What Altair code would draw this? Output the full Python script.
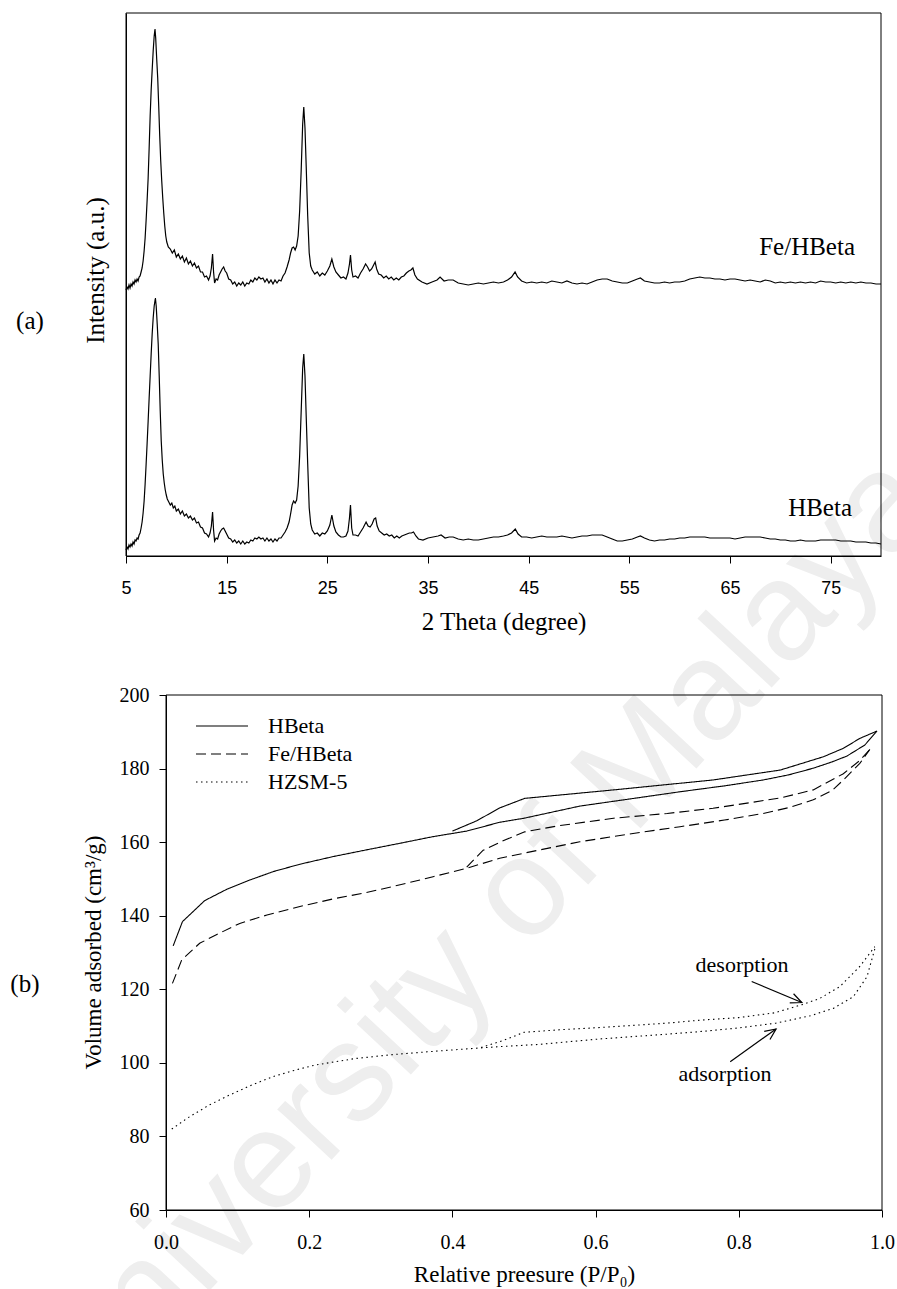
import math
import altair as alt
import pandas as pd

# ------------------------------------------------------------------
# Panel (a): XRD patterns (intensity in arbitrary units, stacked)
# ------------------------------------------------------------------
FE_2THETA_LOW = [5.0, 5.1, 5.2, 5.3, 5.4, 5.5, 5.6, 5.7, 5.8, 5.9, 6.0, 6.1, 6.2, 6.3, 6.4, 6.5, 6.6, 6.7, 6.8, 6.9,
                 7.0, 7.1, 7.2, 7.3, 7.4, 7.5, 7.6, 7.7, 7.8, 7.88, 7.95, 8.05, 8.15, 8.25, 8.35, 8.45, 8.55, 8.65,
                 8.75, 8.85, 8.95,
                 9.05, 9.2, 9.4, 9.6, 9.8, 10.0, 10.2, 10.4, 10.6, 10.8, 11.0, 11.2, 11.4, 11.6, 11.8, 12.0, 12.2,
                 12.4, 12.6, 12.8, 13.0, 13.2, 13.35, 13.48, 13.6, 13.7, 13.8, 13.95, 14.1, 14.25, 14.4, 14.55, 14.7,
                 14.85, 15.0, 15.2, 15.4, 15.6, 15.8, 16.0, 16.2, 16.4, 16.6, 16.8, 17.0, 17.2, 17.4, 17.6, 17.8,
                 18.0, 18.2, 18.4, 18.6, 18.8, 19.0, 19.2, 19.4, 19.6, 19.8, 20.0, 20.2, 20.4, 20.6, 20.8, 21.0, 21.2,
                 21.35, 21.5, 21.65, 21.8, 21.95, 22.1, 22.25, 22.4, 22.55, 22.66, 22.78, 22.9, 23.05, 23.2, 23.35,
                 23.5, 23.75, 24.0, 24.25, 24.5, 24.75, 25.0, 25.25, 25.45, 25.65, 25.85, 26.1, 26.35, 26.6, 26.85,
                 27.05, 27.2, 27.3, 27.42, 27.55, 27.8, 28.05, 28.3, 28.55, 28.8, 29.0, 29.2, 29.4, 29.6, 29.75,
                 29.9, 30.1, 30.35, 30.6, 30.85, 31.1, 31.35, 31.6, 31.85, 32.1, 32.35, 32.6, 32.85, 33.1, 33.3,
                 33.5, 33.7, 33.95]
FE_INT_LOW = [266, 269, 267, 271, 268, 272, 270, 274, 272, 276, 274, 277, 275, 279, 280, 284, 288, 295, 305, 318,
              336, 356, 378, 408, 440, 466, 486, 505, 520, 527, 518, 497, 478, 450, 420, 395, 375, 358,
              343, 330, 320,
              314, 309, 307, 303, 306, 299, 302, 297, 300, 294, 298, 292, 295, 290, 293, 288, 290,
              284, 284, 279, 280, 276, 280, 288, 302, 284, 273, 277, 276, 281, 284, 287, 289,
              285, 283, 277, 276, 272, 274, 270, 273, 271, 274, 270, 273, 272, 276, 274, 278,
              276, 279, 277, 278, 274, 277, 273, 276, 272, 276, 273, 276, 275, 280, 283, 289, 296,
              303, 308, 309, 306, 310, 320, 345, 385, 432, 449, 428, 390, 340, 303, 290,
              286, 282, 284, 280, 283, 281, 285, 290, 297, 289, 284, 281, 278, 279, 277,
              283, 292, 301, 286, 279, 280, 278, 283, 287, 292, 289, 285, 287, 291, 294,
              287, 282, 281, 278, 280, 277, 279, 276, 278, 276, 279, 280, 283, 285, 286,
              288, 281, 277]
FE_2THETA_HIGH = [34.4, 34.9, 35.4, 35.9, 36.2, 36.6, 37.0, 37.5, 38.0, 38.5, 39.0, 39.5, 40.0, 40.5, 41.0, 41.5,
                  42.0, 42.5, 42.9, 43.3, 43.65, 43.9, 44.3, 44.8, 45.3, 45.8, 46.3, 46.8, 47.3, 47.8, 48.3, 48.8,
                  49.3, 49.8, 50.3, 50.8, 51.3, 51.8, 52.3, 52.8, 53.3, 53.8, 54.3, 54.8, 55.3, 55.8, 56.1, 56.5,
                  57.0, 57.5, 58.0, 58.5, 59.0, 59.5, 60.0, 60.5, 61.0, 61.5, 62.0, 62.5, 63.0, 63.5, 64.0, 64.5,
                  65.0, 65.5, 66.0, 66.5, 67.0, 67.5, 68.0, 68.5, 69.0, 69.5, 70.0, 70.5, 71.0, 71.5, 72.0, 72.5,
                  73.0, 73.5, 74.0, 74.5, 75.0, 75.5, 76.0, 76.5, 77.0, 77.5, 78.0, 78.5, 79.0, 79.5, 80.0]
FE_INT_HIGH = [274, 272, 274, 276, 279, 275, 276, 276, 273, 272, 271, 272, 273, 272, 273, 274,
               273, 274, 276, 279, 284, 279, 275, 273, 274, 273, 274, 273, 275, 274, 273, 275,
               273, 272, 273, 272, 274, 276, 277, 277, 275, 274, 273, 273, 275, 277, 278, 275,
               274, 273, 273, 274, 273, 274, 274, 275, 277, 278, 279, 278, 278, 277, 277, 276,
               277, 277, 276, 275, 276, 275, 274, 276, 275, 273, 274, 273, 274, 273, 274, 273,
               274, 273, 275, 274, 274, 273, 274, 273, 274, 273, 274, 273, 273, 272, 272]

HB_2THETA_LOW = [5.0, 5.1, 5.2, 5.3, 5.4, 5.5, 5.6, 5.7, 5.8, 5.9, 6.0, 6.1, 6.2, 6.3, 6.4, 6.5, 6.6, 6.7, 6.8, 6.9,
                 7.0, 7.1, 7.2, 7.3, 7.4, 7.5, 7.6, 7.7, 7.8, 7.92, 8.0, 8.1, 8.2, 8.3, 8.4, 8.5, 8.6, 8.7, 8.8,
                 8.9, 9.0,
                 9.1, 9.25, 9.4, 9.55, 9.7, 9.85, 10.0, 10.2, 10.4, 10.6, 10.8, 11.0, 11.2, 11.4, 11.6, 11.8, 12.0,
                 12.2, 12.4, 12.6, 12.8, 13.0, 13.2, 13.35, 13.48, 13.6, 13.7, 13.8, 13.95, 14.1, 14.25, 14.4, 14.55,
                 14.7, 14.85, 15.0, 15.2, 15.4, 15.6, 15.8, 16.0, 16.2, 16.4, 16.6, 16.8, 17.0, 17.2, 17.4, 17.6,
                 17.8, 18.0, 18.2, 18.4, 18.6, 18.8, 19.0, 19.2, 19.4, 19.6, 19.8, 20.0, 20.2, 20.4, 20.6, 20.8,
                 21.0, 21.2,
                 21.35, 21.5, 21.65, 21.8, 21.95, 22.1, 22.25, 22.42, 22.55, 22.66, 22.78, 22.9, 23.05, 23.2, 23.35,
                 23.5, 23.75, 24.0, 24.25, 24.5, 24.75, 25.0, 25.25, 25.45, 25.65, 25.85, 26.1, 26.35, 26.6, 26.85,
                 27.05, 27.2, 27.3, 27.42, 27.55, 27.8, 28.05, 28.3, 28.55, 28.85, 29.05, 29.25, 29.45, 29.65, 29.8,
                 29.95, 30.15, 30.4, 30.65, 30.9, 31.15, 31.4, 31.65, 31.9, 32.15, 32.4, 32.65, 32.9, 33.15, 33.35,
                 33.56, 33.8, 34.05]
HB_INT_LOW = [6, 9, 7, 11, 9, 12, 10, 14, 12, 16, 15, 18, 17, 21, 23, 28, 34, 43, 55, 72,
              92, 113, 135, 158, 180, 202, 222, 238, 250, 258, 250, 232, 212, 180, 145, 115, 96, 82, 73,
              66, 61,
              57, 54, 51, 53, 48, 50, 45, 47, 42, 45, 40, 42, 38, 40, 36, 38, 33,
              34, 29, 28, 23, 22, 19, 23, 30, 44, 26, 15, 18, 17, 22, 25, 27,
              28, 25, 22, 18, 17, 14, 16, 13, 15, 12, 15, 12, 14, 13, 16, 15,
              18, 17, 19, 17, 18, 15, 18, 15, 17, 14, 17, 15, 18, 18, 21, 24,
              28, 34,
              42, 51, 55, 53, 56, 70, 100, 150, 188, 202, 180, 140, 92, 48, 32,
              26, 22, 23, 20, 23, 22, 25, 31, 41, 30, 24, 21, 19, 19, 20,
              25, 38, 51, 28, 21, 21, 20, 24, 28, 34, 30, 29, 32, 37, 38,
              30, 25, 23, 21, 22, 20, 21, 18, 20, 18, 20, 21, 22, 23, 23,
              24, 20, 17]
HB_2THETA_HIGH = [34.5, 35.0, 35.5, 36.0, 36.3, 36.7, 37.1, 37.5, 38.0, 38.5, 39.0, 39.5, 40.0, 40.5, 41.0, 41.5,
                  42.0, 42.5, 42.9, 43.3, 43.67, 43.95, 44.3, 44.8, 45.3, 45.8, 46.3, 46.8, 47.3, 47.8, 48.3, 48.8,
                  49.3, 49.8, 50.3, 50.8, 51.3, 51.8, 52.3, 52.8, 53.3, 53.8, 54.3, 54.8, 55.3, 55.8, 56.1, 56.5,
                  57.0, 57.5, 58.0, 58.5, 59.0, 59.5, 60.0, 60.5, 61.0, 61.5, 62.0, 62.5, 63.0, 63.5, 64.0, 64.5,
                  65.0, 65.5, 66.0, 66.5, 67.0, 67.5, 68.0, 68.5, 69.0, 69.5, 70.0, 70.5, 71.0, 71.5, 72.0, 72.5,
                  73.0, 73.5, 74.0, 74.5, 75.0, 75.5, 76.0, 76.5, 77.0, 77.5, 78.0, 78.5, 79.0, 79.5, 80.0]
HB_INT_HIGH = [16, 18, 19, 20, 21, 18, 19, 19, 17, 16, 17, 16, 16, 17, 18, 19,
               19, 20, 21, 23, 27, 22, 19, 19, 18, 19, 20, 19, 19, 19, 20, 19,
               18, 19, 20, 20, 21, 21, 21, 19, 17, 15, 15, 16, 17, 19, 20, 18,
               16, 15, 16, 16, 17, 17, 18, 18, 19, 19, 19, 19, 18, 18, 18, 18,
               18, 17, 18, 19, 19, 19, 19, 18, 17, 17, 16, 16, 15, 15, 16, 15,
               15, 15, 16, 16, 16, 16, 15, 15, 15, 14, 14, 14, 13, 13, 12]

XRD_SAMPLES = ["Fe/HBeta", "HBeta"]
XRD_LABEL_2THETA = [77.42, 77.12]
XRD_LABEL_INT = [309, 48]
XRD_XTICKS = [5, 15, 25, 35, 45, 55, 65, 75]
XRD_XDOMAIN = [5, 80]
XRD_YDOMAIN = [0, 543]
PANEL_A_TAG = ["(a)"]
PANEL_A_TAG_2THETA = [-4.54]
PANEL_A_TAG_INT = [235]

# ------------------------------------------------------------------
# Panel (b): N2 adsorption-desorption isotherms
# ------------------------------------------------------------------
ISO_SAMPLES = ["HBeta", "Fe/HBeta", "HZSM-5"]

HB_ADS_P = [0.010, 0.023, 0.054, 0.085, 0.117, 0.150, 0.187, 0.234, 0.280, 0.327, 0.373, 0.420, 0.466, 0.500,
            0.578, 0.650, 0.718, 0.780, 0.834, 0.870, 0.904, 0.930, 0.951, 0.976, 0.993]
HB_ADS_V = [131.8, 138.4, 144.1, 147.2, 149.7, 152.0, 154.0, 156.1, 157.9, 159.7, 161.5, 163.0, 165.4, 166.5,
            169.8, 171.8, 173.7, 175.3, 176.9, 178.3, 180.1, 181.8, 183.4, 186.4, 190.2]
HB_DES_P = [0.993, 0.969, 0.946, 0.918, 0.858, 0.764, 0.625, 0.501, 0.466, 0.434, 0.400]
HB_DES_V = [190.2, 188.2, 185.5, 183.2, 179.6, 176.9, 174.2, 171.9, 169.3, 165.8, 163.0]

FE_ADS_P = [0.009, 0.022, 0.047, 0.071, 0.103, 0.141, 0.187, 0.234, 0.280, 0.327, 0.373, 0.420, 0.466, 0.500,
            0.578, 0.650, 0.718, 0.780, 0.834, 0.870, 0.904, 0.930, 0.946, 0.969, 0.983]
FE_ADS_V = [121.6, 128.0, 132.5, 134.9, 137.9, 140.2, 142.5, 144.6, 146.3, 148.4, 150.6, 152.9, 155.6, 157.0,
            160.1, 162.3, 164.2, 166.0, 167.8, 169.4, 171.5, 174.0, 176.9, 181.4, 185.2]
FE_DES_P = [0.983, 0.969, 0.946, 0.904, 0.858, 0.764, 0.700, 0.625, 0.550, 0.501, 0.470, 0.443, 0.420]
FE_DES_V = [185.2, 182.2, 178.6, 174.2, 172.0, 169.2, 167.8, 166.5, 164.5, 162.8, 160.3, 157.8, 153.2]

ZSM_ADS_P = [0.008, 0.030, 0.060, 0.086, 0.120, 0.150, 0.180, 0.208, 0.265, 0.320, 0.365, 0.420, 0.465, 0.520,
             0.606, 0.700, 0.746, 0.800, 0.852, 0.900, 0.932, 0.960, 0.979, 0.990]
ZSM_ADS_V = [82.0, 85.0, 88.5, 91.0, 94.0, 96.3, 98.0, 99.4, 101.2, 102.3, 103.0, 103.8, 104.4, 105.0,
             106.5, 107.8, 108.5, 109.5, 110.8, 112.8, 114.8, 118.0, 123.4, 131.0]
ZSM_DES_P = [0.990, 0.969, 0.941, 0.913, 0.888, 0.850, 0.800, 0.746, 0.700, 0.606, 0.550, 0.500, 0.470, 0.440]
ZSM_DES_V = [131.6, 126.2, 120.7, 117.5, 115.8, 113.6, 112.3, 111.6, 110.8, 109.6, 109.0, 108.3, 106.0, 104.2]

ISO_XTICKS = [0.0, 0.2, 0.4, 0.6, 0.8, 1.0]
ISO_YTICKS = [60, 80, 100, 120, 140, 160, 180, 200]
ISO_XDOMAIN = [0, 1]
ISO_YDOMAIN = [60, 200]

ARROW_LABELS = ["desorption", "adsorption"]
ARROW_TEXT_P = [0.8045, 0.7807]
ARROW_TEXT_V = [126.6, 97.1]
ARROW_FROM_P = [0.818, 0.788]
ARROW_FROM_V = [122.1, 100.3]
ARROW_TO_P = [0.888, 0.852]
ARROW_TO_V = [116.4, 109.2]

PANEL_B_TAG = ["(b)"]
PANEL_B_TAG_P = [-0.197]
PANEL_B_TAG_V = [121.4]

WATERMARK = ["University of Malaya"]
WATERMARK_P = [0.4385]
WATERMARK_V = [133.7]

# ------------------------------------------------------------------
# Layout (pixels inside the 897 x 1289 canvas)
# ------------------------------------------------------------------
W, H = 897, 1289
A_LEFT, A_RIGHT, A_TOP, A_BOTTOM = 126, 881, 13, 556
B_LEFT, B_RIGHT, B_TOP, B_BOTTOM = 166, 882, 695, 1210
SERIF = "Liberation Serif"
SANS = "Liberation Sans"

xa = alt.Scale(domain=XRD_XDOMAIN, range=[A_LEFT, A_RIGHT], nice=False, zero=False)
ya = alt.Scale(domain=XRD_YDOMAIN, range=[A_BOTTOM, A_TOP], nice=False, zero=False)
xb = alt.Scale(domain=ISO_XDOMAIN, range=[B_LEFT, B_RIGHT], nice=False, zero=False)
yb = alt.Scale(domain=ISO_YDOMAIN, range=[B_BOTTOM, B_TOP], nice=False, zero=False)

# ---------------- data frames ----------------
xrd_rows = []
for name, tt, ii in [("Fe/HBeta", FE_2THETA_LOW + FE_2THETA_HIGH, FE_INT_LOW + FE_INT_HIGH),
                     ("HBeta", HB_2THETA_LOW + HB_2THETA_HIGH, HB_INT_LOW + HB_INT_HIGH)]:
    for t, i in zip(tt, ii):
        xrd_rows.append({"two_theta": t, "intensity": i, "sample": name})
xrd = pd.DataFrame(xrd_rows)

xrd_labels = pd.DataFrame({"two_theta": XRD_LABEL_2THETA, "intensity": XRD_LABEL_INT, "label": XRD_SAMPLES})
a_tag = pd.DataFrame({"two_theta": PANEL_A_TAG_2THETA, "intensity": PANEL_A_TAG_INT, "label": PANEL_A_TAG})
a_frame = pd.DataFrame({"two_theta": [XRD_XDOMAIN[0]], "two_theta2": [XRD_XDOMAIN[1]],
                        "intensity": [XRD_YDOMAIN[0]], "intensity2": [XRD_YDOMAIN[1]]})

iso_rows = []
for name, kind, pp, vv in [
    ("HBeta", "adsorption", HB_ADS_P, HB_ADS_V), ("HBeta", "desorption", HB_DES_P, HB_DES_V),
    ("Fe/HBeta", "adsorption", FE_ADS_P, FE_ADS_V), ("Fe/HBeta", "desorption", FE_DES_P, FE_DES_V),
    ("HZSM-5", "adsorption", ZSM_ADS_P, ZSM_ADS_V), ("HZSM-5", "desorption", ZSM_DES_P, ZSM_DES_V),
]:
    for p, v in zip(pp, vv):
        iso_rows.append({"P": p, "V": v, "sample": name, "branch": name + " " + kind})
iso = pd.DataFrame(iso_rows)


def px_b(p, v):
    x = B_LEFT + (p - ISO_XDOMAIN[0]) / (ISO_XDOMAIN[1] - ISO_XDOMAIN[0]) * (B_RIGHT - B_LEFT)
    y = B_BOTTOM - (v - ISO_YDOMAIN[0]) / (ISO_YDOMAIN[1] - ISO_YDOMAIN[0]) * (B_BOTTOM - B_TOP)
    return x, y


angles = []
for p0, v0, p1, v1 in zip(ARROW_FROM_P, ARROW_FROM_V, ARROW_TO_P, ARROW_TO_V):
    x0, y0 = px_b(p0, v0)
    x1, y1 = px_b(p1, v1)
    angles.append(math.degrees(math.atan2(y1 - y0, x1 - x0)) % 360)

arrows = pd.DataFrame({"P": ARROW_FROM_P, "V": ARROW_FROM_V, "P2": ARROW_TO_P, "V2": ARROW_TO_V})
arrow_heads = pd.DataFrame({"P": ARROW_TO_P, "V": ARROW_TO_V, "angle": angles})
arrow_text = pd.DataFrame({"P": ARROW_TEXT_P, "V": ARROW_TEXT_V, "label": ARROW_LABELS})
b_tag = pd.DataFrame({"P": PANEL_B_TAG_P, "V": PANEL_B_TAG_V, "label": PANEL_B_TAG})
b_frame = pd.DataFrame({"P": [ISO_XDOMAIN[0]], "P2": [ISO_XDOMAIN[1]],
                        "V": [ISO_YDOMAIN[0]], "V2": [ISO_YDOMAIN[1]]})
wm = pd.DataFrame({"P": WATERMARK_P, "V": WATERMARK_V, "label": WATERMARK})

# ---------------- panel (a) ----------------
axis_xa = alt.Axis(orient="bottom", offset=A_BOTTOM - H, values=XRD_XTICKS, format="d",
                   tickSize=7, labelPadding=16, labelFont=SANS, labelFontSize=18, labelFlush=False,
                   title="2 Theta (degree)", titleFont=SERIF, titleFontSize=25,
                   titleY=65, titleBaseline="middle", grid=False, zindex=1)
axis_ya = alt.Axis(orient="left", offset=-A_LEFT, ticks=False, labels=False,
                   title="Intensity (a.u.)", titleFont=SERIF, titleFontSize=25,
                   titleAngle=270, titleBaseline="middle", titleX=-31, titleY=270, grid=False, zindex=1)

XA = alt.X("two_theta:Q", scale=xa, axis=axis_xa)
YA = alt.Y("intensity:Q", scale=ya, axis=axis_ya)

a_lines = alt.Chart(xrd).mark_line(color="black", strokeWidth=1.2).encode(
    x=XA, y=YA, detail="sample:N",
)
a_box = alt.Chart(a_frame).mark_rect(filled=False, stroke="black", strokeWidth=1).encode(
    x=XA, x2="two_theta2:Q", y=YA, y2="intensity2:Q",
)
a_text = alt.Chart(xrd_labels).mark_text(font=SERIF, fontSize=25, align="right", baseline="middle",
                                         color="black").encode(x=XA, y=YA, text="label:N")
a_tag_mark = alt.Chart(a_tag).mark_text(font=SERIF, fontSize=25, align="center", baseline="middle",
                                        color="black").encode(x=XA, y=YA, text="label:N")
panel_a = alt.layer(a_lines, a_box, a_text, a_tag_mark)

# ---------------- panel (b) ----------------
axis_xb = alt.Axis(orient="bottom", offset=B_BOTTOM - H, values=ISO_XTICKS, format=".1f",
                   tickSize=7, labelPadding=15, labelFont=SERIF, labelFontSize=20, labelFlush=False,
                   title="Relative preesure (P/P\u2080)", titleFont=SERIF, titleFontSize=23,
                   titleY=64, titleBaseline="middle", grid=False, zindex=1)
axis_yb = alt.Axis(orient="left", offset=-B_LEFT, values=ISO_YTICKS, format="d",
                   tickSize=7, labelPadding=10, labelFont=SERIF, labelFontSize=20,
                   title="Volume adsorbed (cm\u00b3/g)", titleFont=SERIF, titleFontSize=23,
                   titleAngle=270, titleBaseline="middle", titleX=-73, titleY=952, grid=False, zindex=1)

XB = alt.X("P:Q", scale=xb, axis=axis_xb)
YB = alt.Y("V:Q", scale=yb, axis=axis_yb)

b_wm = alt.Chart(wm).mark_text(font=SANS, fontSize=140, angle=313, color="#eeeeee",
                               align="center", baseline="middle").encode(x=XB, y=YB, text="label:N")
b_lines = alt.Chart(iso).mark_line(color="black", strokeWidth=1.1).encode(
    x=XB, y=YB,
    strokeDash=alt.StrokeDash(
        "sample:N",
        scale=alt.Scale(domain=ISO_SAMPLES, range=[[1, 0], [10, 5], [1.5, 3.5]]),
        legend=alt.Legend(orient="none", legendX=195, legendY=715, title=None,
                          symbolType="stroke", symbolSize=2704, symbolStrokeWidth=1.2,
                          symbolStrokeColor="black", labelFont=SERIF, labelFontSize=22,
                          labelColor="black", labelOffset=19, rowPadding=6, clipHeight=22,
                          padding=0, labelLimit=300),
    ),
    detail="branch:N",
)
b_box = alt.Chart(b_frame).mark_rect(filled=False, stroke="black", strokeWidth=1).encode(
    x=XB, x2="P2:Q", y=YB, y2="V2:Q",
)
b_arrow = alt.Chart(arrows).mark_rule(color="black", strokeWidth=1.2).encode(
    x=XB, x2="P2:Q", y=YB, y2="V2:Q",
)
b_head = alt.Chart(arrow_heads).mark_point(shape="M-1,-0.45L0,0L-1,0.45", filled=False, size=484,
                                           color="black", strokeWidth=1.2, opacity=1).encode(
    x=XB, y=YB, angle=alt.Angle("angle:Q", scale=None),
)
b_text = alt.Chart(arrow_text).mark_text(font=SERIF, fontSize=22, align="center", baseline="middle",
                                         color="black").encode(x=XB, y=YB, text="label:N")
b_tag_mark = alt.Chart(b_tag).mark_text(font=SERIF, fontSize=25, align="center", baseline="middle",
                                        color="black").encode(x=XB, y=YB, text="label:N")
panel_b = alt.layer(b_wm, b_box, b_lines, b_arrow, b_head, b_text, b_tag_mark)

chart = (
    alt.layer(panel_b, panel_a)
    .resolve_scale(x="independent", y="independent")
    .resolve_axis(x="independent", y="independent")
    .properties(width=W, height=H, padding=0, autosize=alt.AutoSizeParams(type="none"),
                background="white")
    .configure_view(stroke=None)
    .configure_axis(grid=False, domainColor="black", tickColor="black", labelColor="black",
                    titleColor="black", titleFontWeight="normal", domainWidth=1, tickWidth=1)
)

chart.save("out.html", embed_options={"renderer": "svg", "actions": False})
